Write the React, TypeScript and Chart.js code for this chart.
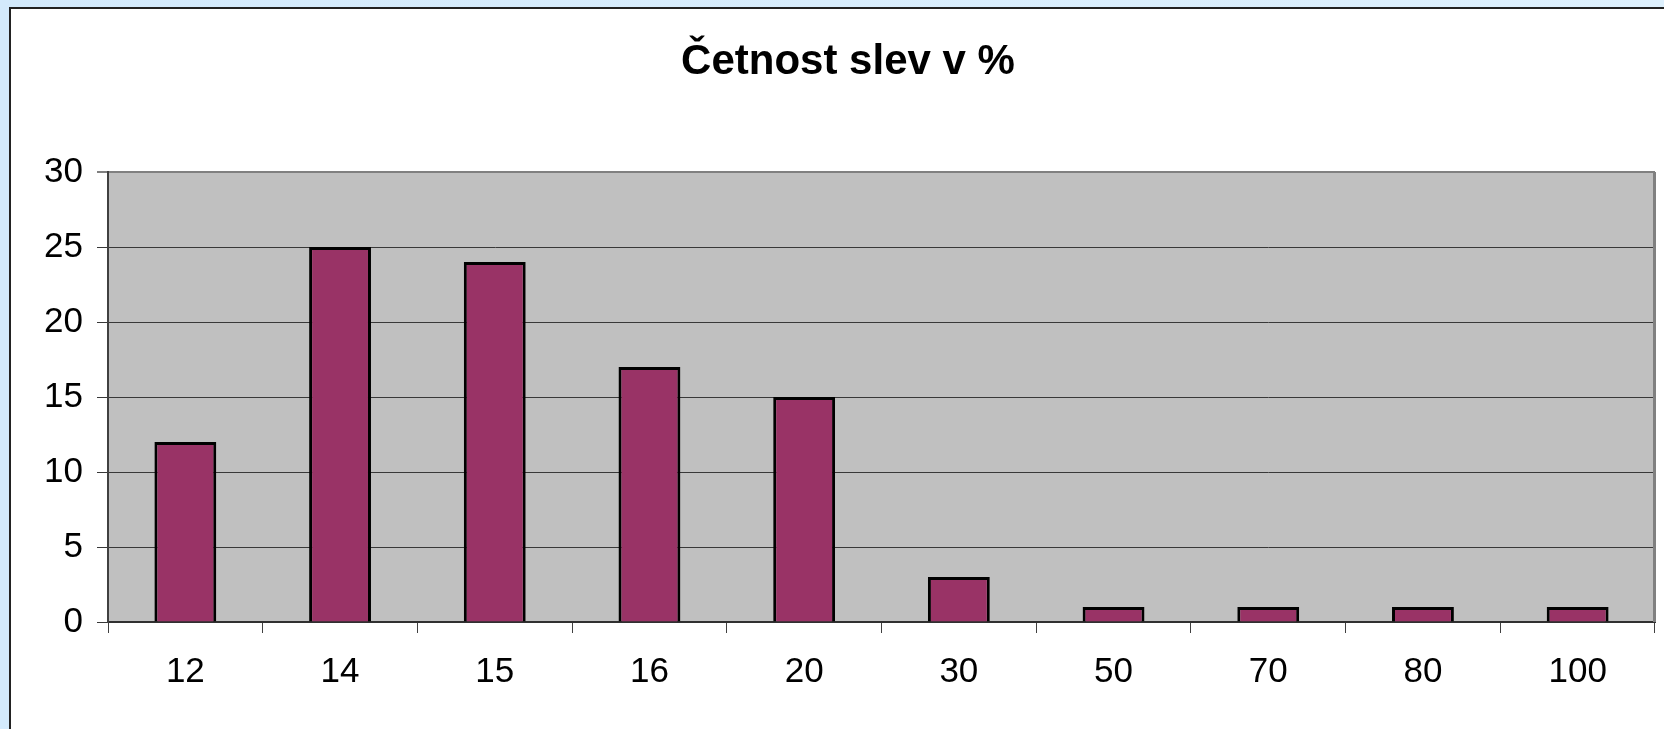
import React, { useEffect, useRef } from "react";
import { Chart, registerables } from "chart.js";

Chart.register(...registerables);

const categories = ["12", "14", "15", "16", "20", "30", "50", "70", "80", "100"];
const counts = [12, 25, 24, 17, 15, 3, 1, 1, 1, 1];
const yTicks = [0, 5, 10, 15, 20, 25, 30];
const chartTitle = "Četnost slev v %";

const FONT = "'Liberation Sans', Arial, Helvetica, sans-serif";

const backgroundPlugin = {
  id: "bgPanel",
  beforeDraw(chart: any) {
    const { ctx, width, height, chartArea } = chart;
    ctx.save();
    const g = ctx.createLinearGradient(0, 0, width, 0);
    g.addColorStop(0, "#d3eafc");
    g.addColorStop(1, "#ddf0fd");
    ctx.fillStyle = g;
    ctx.fillRect(0, 0, width, height);
    ctx.fillStyle = "#ffffff";
    ctx.fillRect(9, 7, width - 9, height - 7);
    ctx.fillStyle = "#222222";
    ctx.fillRect(9, 7, 2, height - 7);
    ctx.fillRect(9, 7, width - 9, 2);
    ctx.fillStyle = "#c0c0c0";
    ctx.fillRect(chartArea.left, chartArea.top, chartArea.right - chartArea.left, chartArea.bottom - chartArea.top);
    ctx.restore();
  },
  afterDraw(chart: any) {
    const { ctx, chartArea } = chart;
    ctx.save();
    ctx.strokeStyle = "#808080";
    ctx.lineWidth = 3;
    ctx.beginPath();
    ctx.moveTo(chartArea.right - 0.5, chartArea.top);
    ctx.lineTo(chartArea.right - 0.5, chartArea.bottom);
    ctx.stroke();
    ctx.restore();
  },
};

export default function App() {
  const ref = useRef<HTMLCanvasElement>(null);

  useEffect(() => {
    if (!ref.current) return;
    const chart = new Chart(ref.current, {
      type: "bar",
      data: {
        labels: categories,
        datasets: [
          {
            data: counts,
            backgroundColor: "#993366",
            borderColor: "#000000",
            borderWidth: 3,
            categoryPercentage: 1,
            barPercentage: 0.4,
          },
        ],
      },
      options: {
        responsive: false,
        animation: false,
        devicePixelRatio: 1,
        layout: { padding: { left: 41, right: 9, top: 0, bottom: 0 } },
        plugins: {
          legend: { display: false },
          tooltip: { enabled: false },
          title: {
            display: true,
            text: chartTitle,
            color: "#000000",
            font: { family: FONT, size: 42, weight: "bold", lineHeight: 1.2 },
            padding: { top: 37.4, bottom: 84.2 },
          },
        },
        scales: {
          x: {
            grid: {
              display: true,
              drawOnChartArea: false,
              drawTicks: true,
              tickLength: 11,
              color: "#404040",
              lineWidth: 1,
              offset: true,
            },
            border: { display: true, color: "#303030", width: 2 },
            ticks: {
              color: "#000000",
              font: { family: FONT, size: 35, lineHeight: 1.2 },
              padding: 18,
              maxRotation: 0,
              autoSkip: false,
            },
            afterFit(scale: any) {
              scale.height = 107;
            },
          },
          y: {
            min: 0,
            max: 30,
            afterBuildTicks(scale: any) {
              scale.ticks = yTicks.map((v) => ({ value: v }));
            },
            grid: {
              drawOnChartArea: true,
              drawTicks: true,
              tickLength: 11,
              color: (c: any) => (c.tick && c.tick.value === 30 ? "#808080" : "#383838"),
              lineWidth: (c: any) => (c.tick && c.tick.value === 30 ? 2 : 1),
            },
            border: { display: true, color: "#404040", width: 2 },
            ticks: {
              color: "#000000",
              font: { family: FONT, size: 35, lineHeight: 1.2 },
              padding: 14,
            },
            afterFit(scale: any) {
              scale.width = 67;
            },
          },
        },
      },
      plugins: [backgroundPlugin],
    });
    return () => chart.destroy();
  }, []);

  return (
    <div style={{ position: "fixed", left: 0, top: 0, width: 1664, height: 729 }}>
      <canvas ref={ref} width={1664} height={729} style={{ display: "block", width: 1664, height: 729 }} />
    </div>
  );
}
